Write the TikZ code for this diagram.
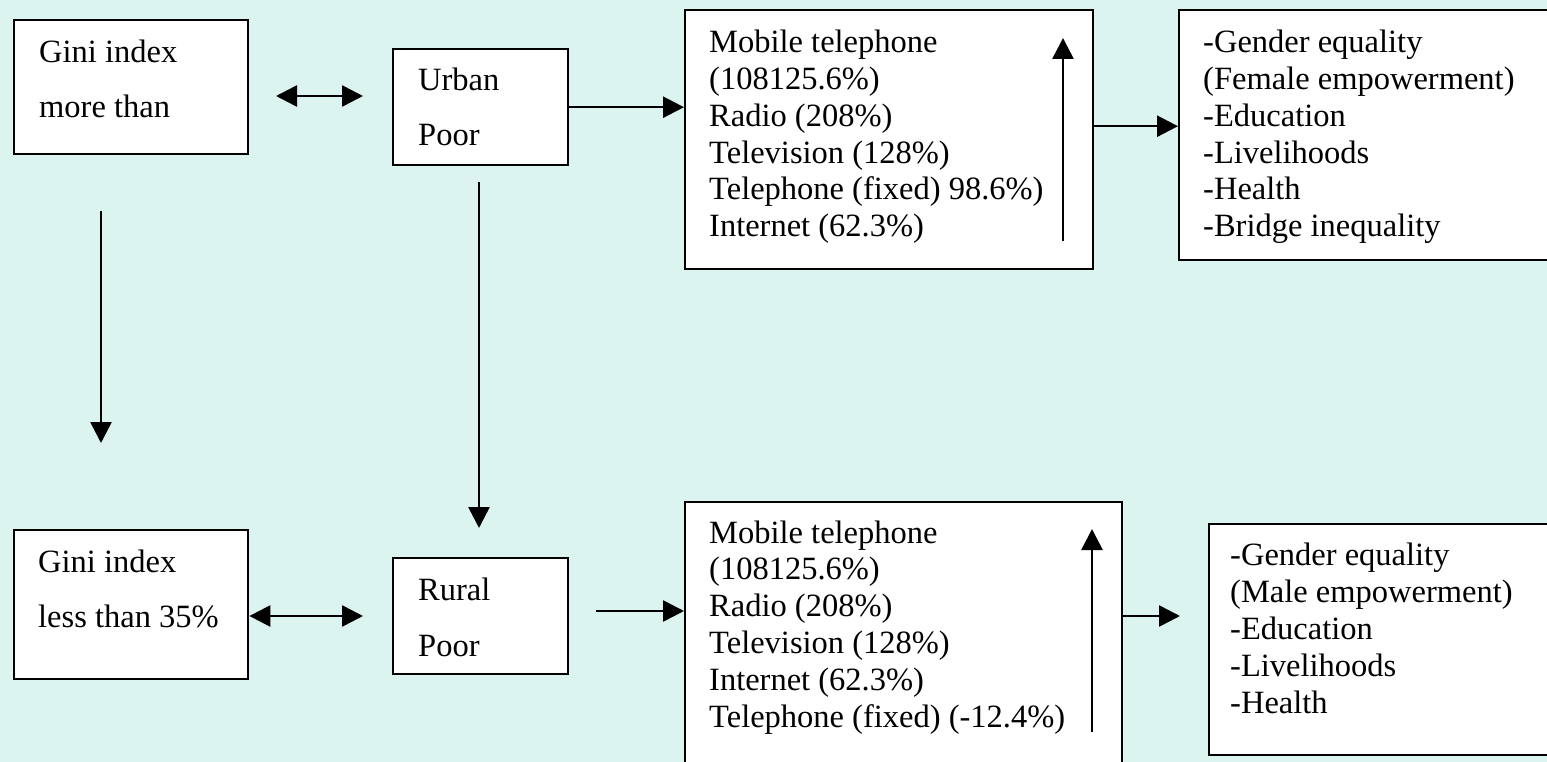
\documentclass[tikz,border=0pt]{standalone}
\usepackage{fontspec}
\setmainfont{Liberation Serif}
\usetikzlibrary{arrows.meta}
\definecolor{bgcyan}{RGB}{220,244,240}
\newcommand{\boxlines}[2]{\parbox[t]{420pt}{\fontsize{32.5}{#1}\selectfont\raggedright #2}}
\tikzset{
  box/.style={draw=black, line width=2.4pt, fill=white, rectangle, inner sep=0pt, anchor=north west},
  txt/.style={inner sep=0pt, anchor=base west},
  conn/.style={line width=2.6pt, -{Triangle[length=21pt,width=21pt]}},
  dconn/.style={line width=2.6pt, {Triangle[length=21pt,width=21pt]}-{Triangle[length=21pt,width=21pt]}}
}
\begin{document}
\begin{tikzpicture}[x=1pt,y=-1pt]
\fill[bgcyan] (0,0) rectangle (1547,762);
\useasboundingbox (0,0) rectangle (1547,762);
\begin{scope}
\clip (0,0) rectangle (1547,762);
% boxes
\node[box, minimum width=234pt, minimum height=134pt] (A) at (13,19) {};
\node[box, minimum width=175pt, minimum height=116pt] (B) at (392,48) {};
\node[box, minimum width=408pt, minimum height=259pt] (C) at (684,9) {};
\node[box, minimum width=390pt, minimum height=250pt] (D) at (1178,9) {};
\node[box, minimum width=234pt, minimum height=149pt] (E) at (13,529) {};
\node[box, minimum width=175pt, minimum height=116pt] (F) at (392,557) {};
\node[box, minimum width=437pt, minimum height=280pt] (G) at (684,501) {};
\node[box, minimum width=360pt, minimum height=231pt] (H) at (1208,523) {};
% texts
\node[txt] (At) at (39,63) {\boxlines{54.5}{Gini index\\more than}};
\node[txt] (Bt) at (418,91) {\boxlines{55}{Urban\\Poor}};
\node[txt] (Ct) at (709,53) {\boxlines{36.7}{Mobile telephone\\(108125.6\%)\\Radio (208\%)\\Television (128\%)\\Telephone (fixed) 98.6\%)\\Internet (62.3\%)}};
\node[txt] (Dt) at (1203,53) {\boxlines{36.7}{-Gender equality\\(Female empowerment)\\-Education\\-Livelihoods\\-Health\\-Bridge inequality}};
\node[txt] (Et) at (38,572) {\boxlines{55}{Gini index\\less than 35\%}};
\node[txt] (Ft) at (418,600) {\boxlines{56}{Rural\\Poor}};
\node[txt] (Gt) at (709,543) {\boxlines{36.8}{Mobile telephone\\(108125.6\%)\\Radio (208\%)\\Television (128\%)\\Internet (62.3\%)\\Telephone (fixed) (-12.4\%)}};
\node[txt] (Ht) at (1230,565) {\boxlines{37}{-Gender equality\\(Male empowerment)\\-Education\\-Livelihoods\\-Health}};
% free connector ends
\coordinate (ab1) at (276,96);
\coordinate (ab2) at (363,96);
\coordinate (cu1) at (1063,241);
\coordinate (cu2) at (1063,38);
\coordinate (ad1) at (101,211);
\coordinate (ad2) at (101,443);
\coordinate (bd1) at (479,182);
\coordinate (bd2) at (479,528);
\coordinate (ef2) at (363,616);
\coordinate (fg1) at (596,611);
\coordinate (gu1) at (1092,732);
\coordinate (gu2) at (1092,529);
\coordinate (gh2) at (1180,616);
% connectors
\draw[dconn] (ab1) -- (ab2);
\draw[conn] (B.east) -- (B.east -| C.west);
\draw[conn] (cu1) -- (cu2);
\draw[conn] ([yshift=13.5pt]C.east) -- ([yshift=13.5pt]C.east -| D.west);
\draw[conn] (ad1) -- (ad2);
\draw[conn] (bd1) -- (bd2);
\draw[dconn] (E.east |- ef2) -- (ef2);
\draw[conn] (fg1) -- (fg1 -| G.west);
\draw[conn] (gu1) -- (gu2);
\draw[conn] (G.east |- gh2) -- (gh2);
\end{scope}
\end{tikzpicture}
\end{document}
